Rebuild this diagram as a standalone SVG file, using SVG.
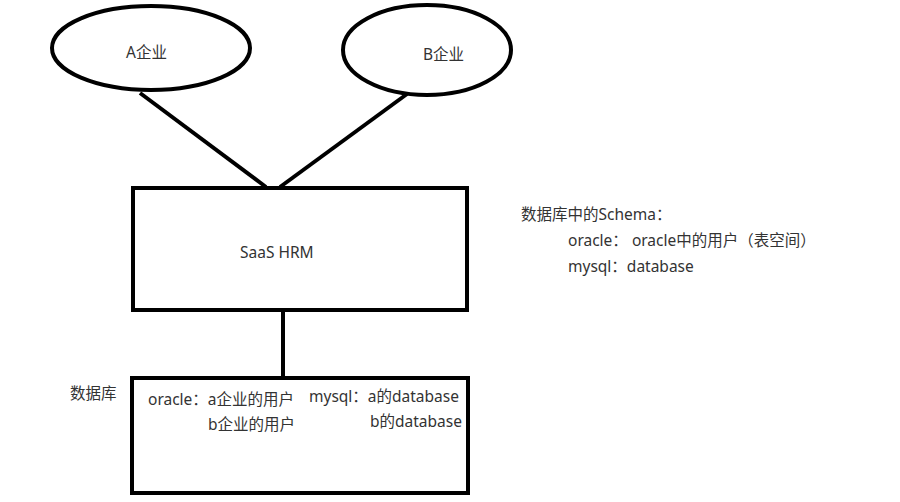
<svg xmlns="http://www.w3.org/2000/svg" width="900" height="502" viewBox="0 0 900 502">
<style>
.shape{fill:#fff;stroke:#000;stroke-width:4}
.conn{stroke:#000;stroke-width:4;fill:none}
text{font-family:"Noto Sans","Noto Sans CJK SC",sans-serif;font-size:15.5px;fill:#333}
</style>
<rect width="900" height="502" fill="#fff"/>
<g id="connectors">
<line class="conn" x1="140" y1="93" x2="266" y2="187"/>
<line class="conn" x1="407" y1="94" x2="280" y2="187"/>
<line class="conn" x1="283" y1="311" x2="283" y2="377"/>
</g>
<g id="nodeA">
<ellipse class="shape" cx="151" cy="48" rx="99" ry="42"/>
<text x="126" y="58">A企业</text>
</g>
<g id="nodeB">
<ellipse class="shape" cx="427" cy="50" rx="84" ry="45"/>
<text x="423" y="60">B企业</text>
</g>
<g id="saas">
<rect class="shape" x="133" y="188" width="334" height="122"/>
<text x="240" y="258">SaaS HRM</text>
</g>
<g id="db">
<rect class="shape" x="132" y="378" width="336" height="115"/>
<text x="148" y="405">oracle：a企业的用户</text>
<text x="208" y="430">b企业的用户</text>
<text x="309" y="402">mysql：a的database</text>
<text x="370" y="427">b的database</text>
</g>
<g id="dblabel">
<text x="70" y="399">数据库</text>
</g>
<g id="note">
<text x="521" y="220">数据库中的Schema：</text>
<text x="568" y="246">oracle： oracle中的用户（表空间）</text>
<text x="568" y="272">mysql：database</text>
</g>
</svg>
